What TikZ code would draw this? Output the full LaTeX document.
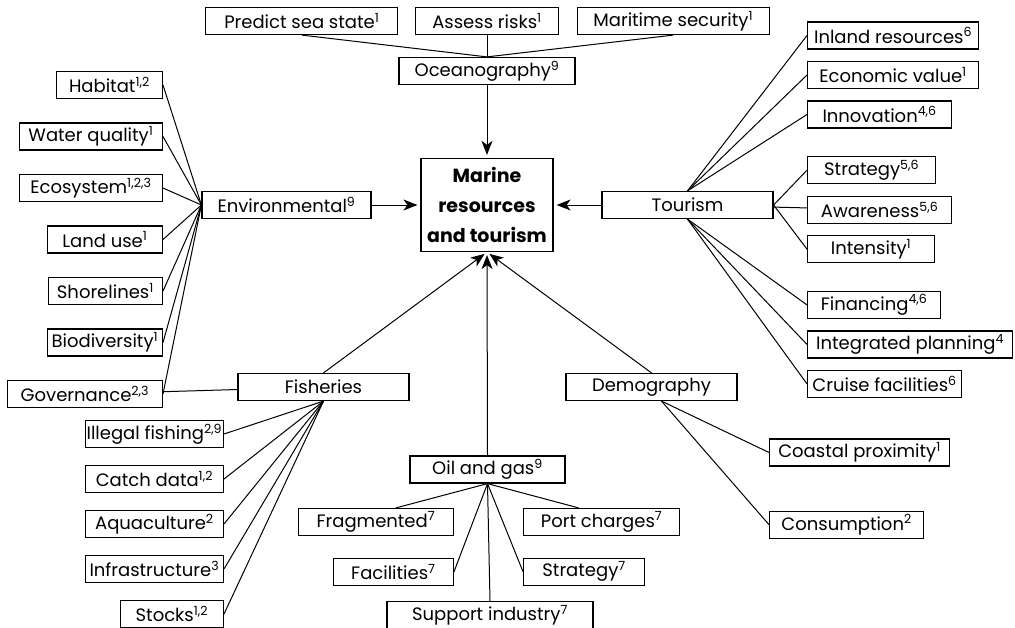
\documentclass[tikz,border=0pt]{standalone}
\usepackage{fontspec}
\setmainfont{Poppins}
\usepackage{tikz}
\usetikzlibrary{positioning,arrows.meta}

\begin{document}
\begin{tikzpicture}[%
    x=1pt, y=-1pt,
    >={Stealth[length=14pt,width=11pt,inset=4pt]},
    line width=1pt,
    font=\fontsize{18}{20}\selectfont,
    box/.style={%
      draw,
      line width=1.2pt,
      minimum height=27pt,
      inner sep=0pt
    },
    hub/.style={box, minimum width=171pt},
    feed/.style={->, shorten >=3pt}
  ]
    \useasboundingbox (0,0) rectangle (1015,627);

    % centre
    \node[box, minimum width=132pt, minimum height=93pt, align=center,
          font=\fontsize{19}{30}\selectfont\bfseries] (mrt) at (487,205) {Marine\\resources\\and tourism};

    % oceanography
    \node[box, minimum width=176pt] (oc) at (487,71) {Oceanography\textsuperscript{9}};
    \node[box, minimum width=143pt] (ar) at (487,21) {Assess risks\textsuperscript{1}};
    \node[box, minimum width=192pt] (pss) [left=16.5pt of ar] {Predict sea state\textsuperscript{1}};
    \node[box, minimum width=192pt] (ms) [right=17.5pt of ar] {Maritime security\textsuperscript{1}};

    % environmental
    \node[hub, minimum width=169pt] (env) at (286.5,205) {Environmental\textsuperscript{9}};
    \node[box, minimum width=106pt, anchor=east] (hab) at (163,85) {Habitat\textsuperscript{1,2}};
    \node[box, minimum width=143pt] (wq) [below left=23.3pt and 0pt of hab.south east] {Water quality\textsuperscript{1}};
    \node[box, minimum width=143pt] (eco) [below left=23.3pt and 0pt of wq.south east] {Ecosystem\textsuperscript{1,2,3}};
    \node[box, minimum width=115pt] (lu) [below left=23.3pt and 0pt of eco.south east] {Land use\textsuperscript{1}};
    \node[box, minimum width=114pt] (sh) [below left=23.3pt and 0pt of lu.south east] {Shorelines\textsuperscript{1}};
    \node[box, minimum width=115pt] (bio) [below left=23.3pt and 0pt of sh.south east] {Biodiversity\textsuperscript{1}};
    \node[box, minimum width=155pt] (gov) [below left=23.3pt and 0pt of bio.south east] {Governance\textsuperscript{2,3}};

    % fisheries
    \node[hub] (fis) at (323.5,387) {Fisheries};
    \node[box, minimum width=138pt, anchor=east] (ill) at (224,434) {Illegal fishing\textsuperscript{2,9}};
    \node[box, minimum width=138pt] (cd) [below left=16.8pt and 0pt of ill.south east] {Catch data\textsuperscript{1,2}};
    \node[box, minimum width=138pt] (aq) [below left=16.8pt and 0pt of cd.south east] {Aquaculture\textsuperscript{2}};
    \node[box, minimum width=138pt] (inf) [below left=16.8pt and 0pt of aq.south east] {Infrastructure\textsuperscript{3}};
    \node[box, minimum width=103pt] (st) [below left=16.8pt and 0pt of inf.south east] {Stocks\textsuperscript{1,2}};

    % oil and gas
    \node[box, minimum width=155pt] (og) at (487.5,469.5) {Oil and gas\textsuperscript{9}};
    \node[box, minimum width=155pt, anchor=east] (fr) at (454,522) {Fragmented\textsuperscript{7}};
    \node[box, minimum width=120pt] (fa) [below left=21.5pt and 0pt of fr.south east] {Facilities\textsuperscript{7}};
    \node[box, minimum width=156pt, anchor=west] (pc) at (523,522) {Port charges\textsuperscript{7}};
    \node[box, minimum width=121pt] (so) [below right=21.5pt and 0pt of pc.south west] {Strategy\textsuperscript{7}};
    \node[box, minimum width=206pt] (si) at (490,615) {Support industry\textsuperscript{7}};

    % demography
    \node[hub] (dem) at (651.5,387) {Demography};
    \node[box, minimum width=180pt, anchor=west] (cp) at (769,452.5) {Coastal proximity\textsuperscript{1}};
    \node[box, minimum width=154pt] (con) [below right=44pt and 0pt of cp.south west] {Consumption\textsuperscript{2}};

    % tourism
    \node[hub] (tou) at (687.5,205) {Tourism};
    \node[box, minimum width=171pt, anchor=west] (inl) at (807,35.5) {Inland resources\textsuperscript{6}};
    \node[box, minimum width=171pt] (ev) [below right=11.3pt and 0pt of inl.south west] {Economic value\textsuperscript{1}};
    \node[box, minimum width=144pt] (inn) [below right=11.3pt and 0pt of ev.south west] {Innovation\textsuperscript{4,6}};
    \node[box, minimum width=128pt] (str) [below right=27.5pt and 0pt of inn.south west] {Strategy\textsuperscript{5,6}};
    \node[box, minimum width=144pt] (aw) [below right=11.3pt and 0pt of str.south west] {Awareness\textsuperscript{5,6}};
    \node[box, minimum width=127pt] (int) [below right=11.3pt and 0pt of aw.south west] {Intensity\textsuperscript{1}};
    \node[box, minimum width=133pt] (fin) [below right=27.5pt and 0pt of int.south west] {Financing\textsuperscript{4,6}};
    \node[box, minimum width=205pt] (ip) [below right=11.3pt and 0pt of fin.south west] {Integrated planning\textsuperscript{4}};
    \node[box, minimum width=154pt] (cf) [below right=11.3pt and 0pt of ip.south west] {Cruise facilities\textsuperscript{6}};

    \path (pss.south) edge (oc.north)
          (ar) edge (oc)
          (ms.south) edge (oc.north)
          (oc) edge [feed] (mrt)
          (env) edge [feed] (mrt)
          (tou) edge [feed] (mrt)
          (fis.north) edge [feed] (mrt.south)
          (og.north) edge [feed] (mrt.south)
          (dem.north) edge [feed] (mrt.south)
          (hab.east) edge (env.west)
          (wq.east) edge (env.west)
          (eco.east) edge (env.west)
          (lu.east) edge (env.west)
          (sh.east) edge (env.west)
          (bio.east) edge (env.west)
          (gov.east) edge (env.west)
          (gov) edge (fis)
          (fis.south) edge (ill.east)
          (fis.south) edge (cd.east)
          (fis.south) edge (aq.east)
          (fis.south) edge (inf.east)
          (fis.south) edge (st.east)
          (og.south) edge ([xshift=20pt]fr.north)
          (og.south) edge (fa.east)
          (og.south) edge (si.north)
          (og.south) edge (so.west)
          (og.south) edge ([xshift=-23pt]pc.north)
          ([xshift=10pt]dem.south) edge (cp.west)
          ([xshift=10pt]dem.south) edge (con.west)
          (tou.north) edge (inl.west)
          (tou.north) edge (ev.west)
          (tou.north) edge (inn.west)
          (tou.east) edge (str.west)
          (tou) edge (aw)
          (tou.east) edge (int.west)
          (tou.south) edge (fin.west)
          (tou.south) edge (ip.west)
          (tou.south) edge (cf.west)
          ;
  \end{tikzpicture}
\end{document}
